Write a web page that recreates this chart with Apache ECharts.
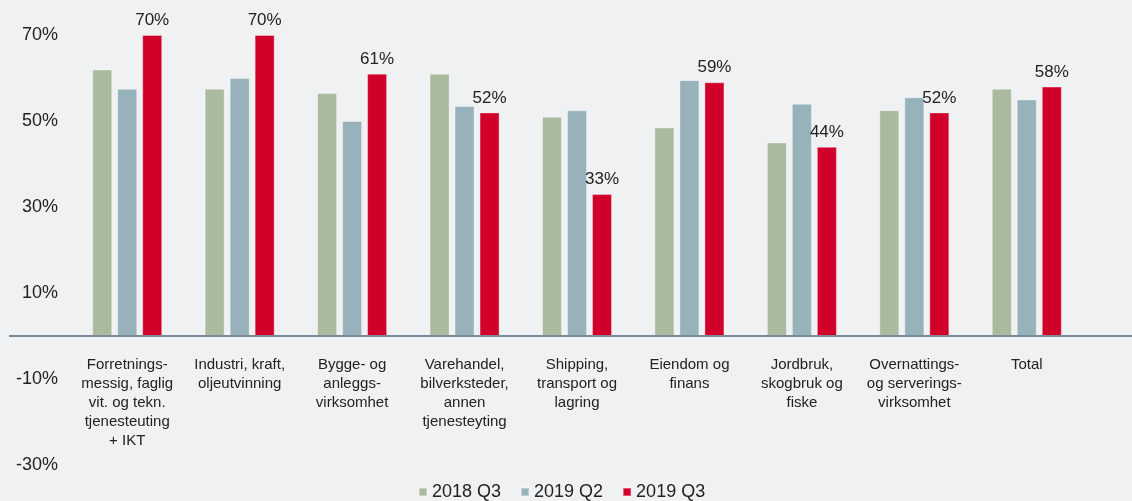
<!DOCTYPE html>
<html>
<head>
<meta charset="utf-8">
<script src="https://cdn.jsdelivr.net/npm/echarts@6/dist/echarts.min.js"></script>
<style>
  html, body { margin: 0; padding: 0; background: #f0f1f3; }
  #chart { width: 1132px; height: 501px; }
</style>
</head>
<body>
<div id="chart"></div>
<script>
// kategorier
const categories = [
  'Forretnings-\nmessig, faglig\nvit. og tekn.\ntjenesteuting\n+ IKT',
  'Industri, kraft,\noljeutvinning',
  'Bygge- og\nanleggs-\nvirksomhet',
  'Varehandel,\nbilverksteder,\nannen\ntjenesteyting',
  'Shipping,\ntransport og\nlagring',
  'Eiendom og\nfinans',
  'Jordbruk,\nskogbruk og\nfiske',
  'Overnattings-\nog serverings-\nvirksomhet',
  'Total'
]
const seriesNames = ['2018 Q3', '2019 Q2', '2019 Q3']
const q3_2018 = [62, 57.5, 56.5, 61, 51, 48.5, 45, 52.5, 57.5]
const q2_2019 = [57.5, 60, 50, 53.5, 52.5, 59.5, 54, 55.5, 55]
const q3_2019 = [70, 70, 61, 52, 33, 59, 44, 52, 58]
const yTicks = { min: -30, max: 70, step: 20 }

const font = 'Liberation Sans, Arial, sans-serif'
const myChart = echarts.init(document.getElementById('chart'))

function barSeries(name, data, color, withLabel) {
  return {
    name: name,
    type: 'bar',
    data: data,
    barWidth: 20,
    barGap: '25%',
    itemStyle: {
      color: color,
      borderColor: 'rgba(255,255,255,0.35)',
      borderWidth: 1
    },
    label: {
      show: withLabel,
      position: 'top',
      distance: 6,
      fontSize: 17,
      fontFamily: font,
      color: '#222',
      formatter: p => Math.round(p.value) + '%'
    }
  }
}

const option = {
  backgroundColor: '#f0f1f3',
  textStyle: { fontFamily: font },
  grid: { left: 71, right: 49, top: 35, bottom: 36, outerBoundsMode: 'none', containLabel: false },
  legend: {
    data: seriesNames,
    bottom: -5,
    left: 413,
    icon: 'rect',
    itemWidth: 8,
    itemHeight: 8,
    itemGap: 19,
    textStyle: { fontSize: 18, color: '#222', fontFamily: font }
  },
  xAxis: {
    type: 'category',
    data: categories,
    position: 'bottom',
    offset: 0,
    axisLine: { show: false, onZero: false },
    axisTick: { show: false },
    axisLabel: {
      interval: 0,
      margin: 19,
      fontSize: 15,
      lineHeight: 19,
      color: '#222',
      fontFamily: font,
      verticalAlign: 'top'
    }
  },
  yAxis: {
    type: 'value',
    min: yTicks.min,
    max: yTicks.max,
    interval: yTicks.step,
    splitLine: { show: false },
    axisLine: { show: false },
    axisTick: { show: false },
    axisLabel: {
      margin: 13,
      fontSize: 18,
      color: '#222',
      fontFamily: font,
      formatter: v => v + '%'
    }
  },
  series: [
    barSeries(seriesNames[0], q3_2018, '#a9ba9f', false),
    barSeries(seriesNames[1], q2_2019, '#97b2bb', false),
    barSeries(seriesNames[2], q3_2019, '#d0002a', true)
  ]
}
myChart.setOption(option)

// flytt kategoriaksen opp til null, og trekk nullinjen over hele bredden
const y0 = myChart.convertToPixel({ yAxisIndex: 0 }, 0)
const yBottom = myChart.convertToPixel({ yAxisIndex: 0 }, yTicks.min)
myChart.setOption({
  xAxis: { offset: y0 - yBottom },
  graphic: [{
    type: 'line',
    z: 10,
    shape: { x1: 9, y1: y0, x2: 1132, y2: y0 },
    style: { stroke: '#7b8b97', lineWidth: 2 }
  }]
})
</script>
</body>
</html>
